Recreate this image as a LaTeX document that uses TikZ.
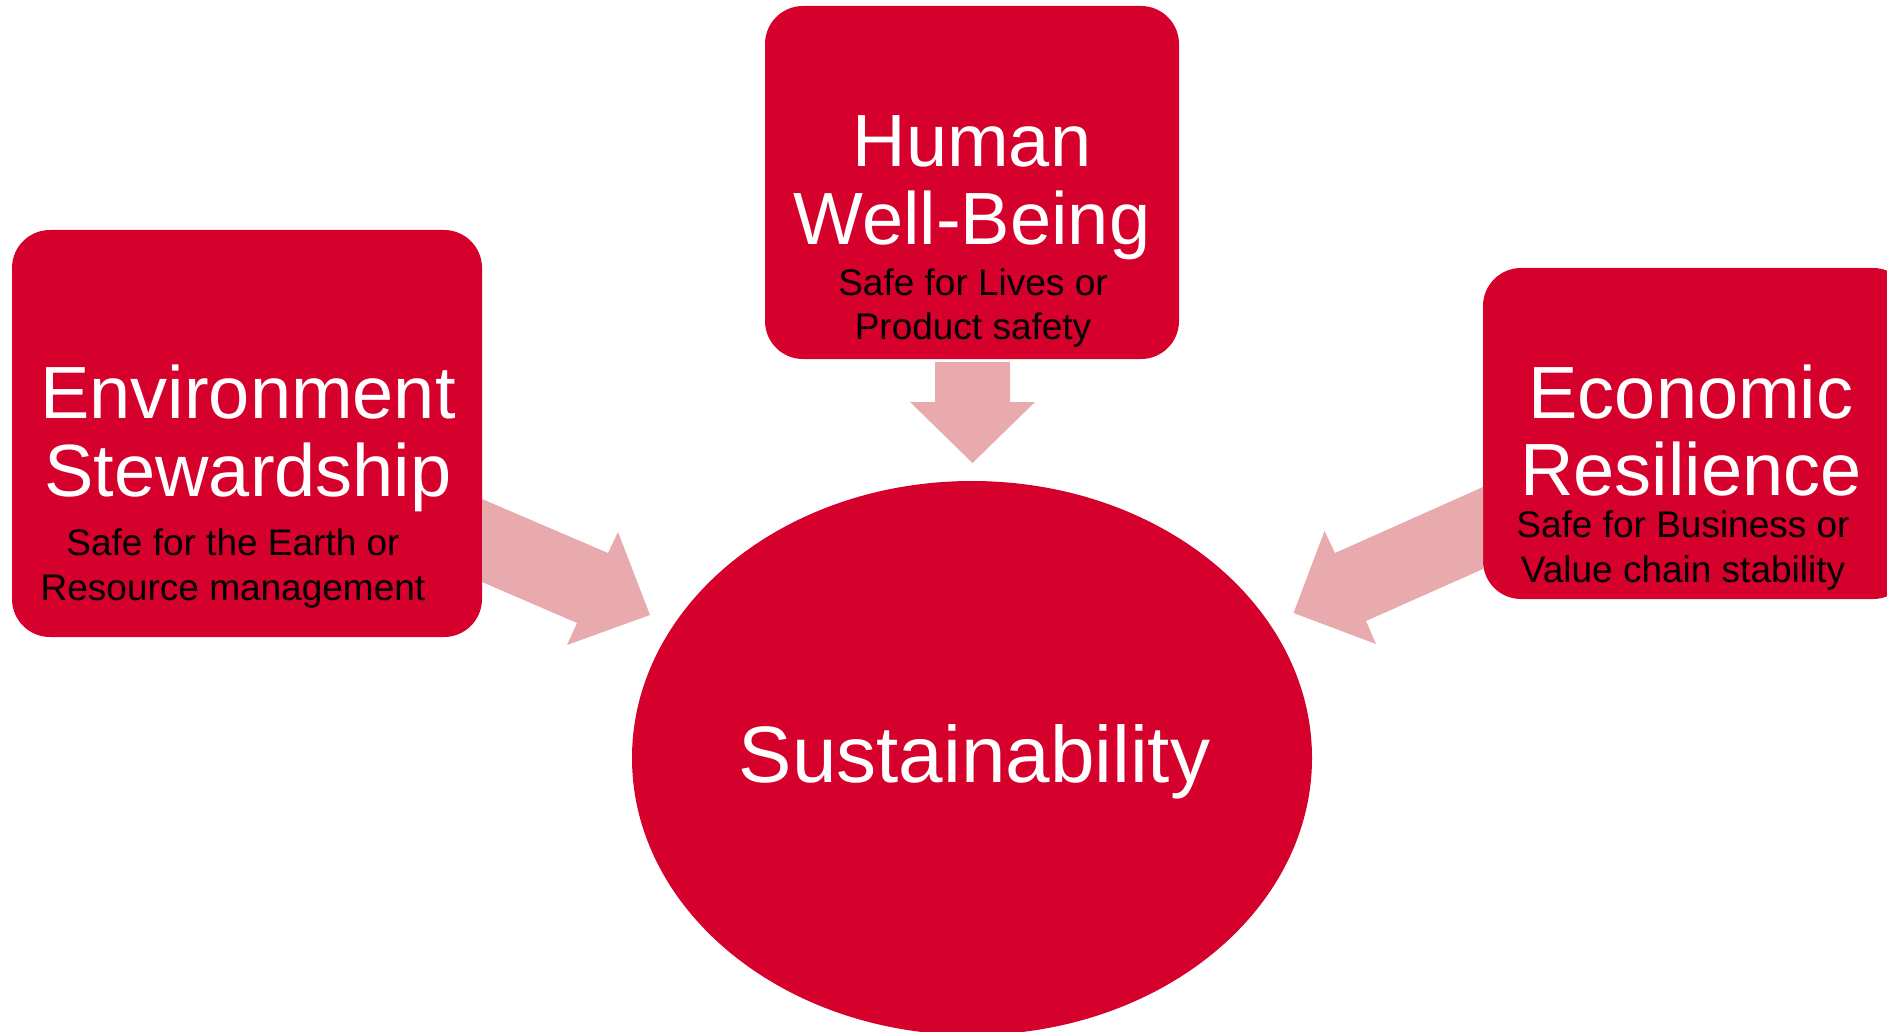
\documentclass[tikz,border=0pt]{standalone}
\usepackage{fontspec}
\setmainfont{Liberation Sans}
\usetikzlibrary{shapes.geometric}
\definecolor{boxred}{RGB}{213,0,43}
\definecolor{arrowpink}{RGB}{232,170,173}
\begin{document}
\begin{tikzpicture}[x=1pt,y=-1pt,
  box/.style={fill=boxred, draw=none, rounded corners=38pt, inner sep=0pt, rectangle},
  ttl/.style={text=white, font=\fontsize{74}{78}\selectfont, anchor=base, inner sep=0pt},
  bigttl/.style={text=white, font=\fontsize{80}{84}\selectfont, anchor=base, inner sep=0pt},
  sub/.style={text=black, font=\fontsize{37}{44}\selectfont, anchor=base, inner sep=0pt},
  blockarrow/.style={fill=arrowpink, draw=none}]
\useasboundingbox (0,0) rectangle (1887,1032);
\clip (0,0) rectangle (1887,1032);

% boxes
\node[box, minimum width=470pt, minimum height=407pt] (env) at (247,433.5) {};
\node[box, minimum width=414pt, minimum height=353pt] (hum) at (972,182.5) {};
\node[box, minimum width=428pt, minimum height=331pt] (eco) at (1697,433.5) {};
\node[ellipse, fill=boxred, draw=none, inner sep=0pt, minimum width=680pt, minimum height=554pt] (sus) at (972,758) {};

% block arrows
\fill[blockarrow] (482,499) -- (608,553) -- (618,532) -- (650,615) -- (567,645) -- (577,623) -- (482,582) -- cycle;
\fill[blockarrow] (1483,487) -- (1335,553) -- (1324.5,531) -- (1293.5,613) -- (1376,644) -- (1366,621) -- (1483,569) -- cycle;
\fill[blockarrow] (935,362) -- (1010,362) -- (1010,402) -- (1035,402) -- (972.5,463) -- (910,402) -- (935,402) -- cycle;

% texts
\node[ttl] (envT1) at (248,418) {Environment};
\node[ttl] (envT2) at (248,496) {Stewardship};
\node[sub] (envS1) at (233,555) {Safe for the Earth or};
\node[sub] (envS2) at (233,600) {Resource management};

\node[ttl] (humT1) at (972,167) {Human};
\node[ttl] (humT2) at (972,245) {Well-Being};
\node[sub] (humS1) at (973,296) {Safe for Lives or};
\node[sub] (humS2) at (973,339) {Product safety};

\node[ttl] (ecoT1) at (1691,418) {Economic};
\node[ttl] (ecoT2) at (1691,495) {Resilience};
\node[sub] (ecoS1) at (1683,537) {Safe for Business or};
\node[sub] (ecoS2) at (1683,582) {Value chain stability};

\node[bigttl] (susT) at (974.5,782) {Sustainability};
\end{tikzpicture}
\end{document}
